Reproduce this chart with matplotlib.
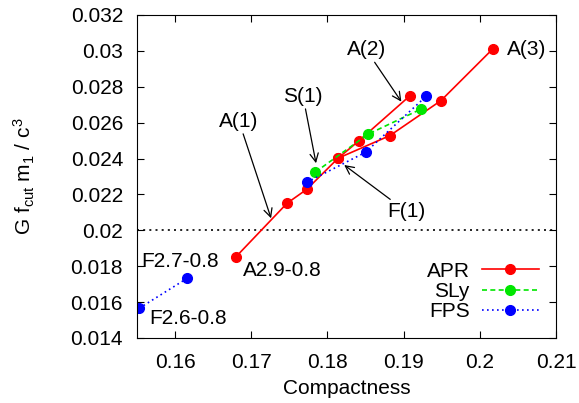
import matplotlib
matplotlib.use("Agg")
import matplotlib.pyplot as plt

plt.rcParams["font.family"] = ["Liberation Sans", "DejaVu Sans"]
plt.rcParams["mathtext.fontset"] = "custom"
plt.rcParams["mathtext.rm"] = "Liberation Sans"
plt.rcParams["mathtext.it"] = "Liberation Sans"

# APR: main branch (A2.9-0.8 ... A(2)) and second branch (... A(3))
apr1_c = [0.1680, 0.1747, 0.1773, 0.1814, 0.1841, 0.1908]
apr1_f = [0.01853, 0.02151, 0.02229, 0.02402, 0.02498, 0.02749]
apr2_c = [0.1814, 0.1882, 0.1949, 0.2017]
apr2_f = [0.02402, 0.02528, 0.02723, 0.03011]

sly_c = [0.1784, 0.1853, 0.1923]
sly_f = [0.02324, 0.02535, 0.02676]

fps1_c = [0.1553, 0.1616]
fps1_f = [0.01566, 0.01733]
fps2_c = [0.1773, 0.1850, 0.1930]
fps2_f = [0.02268, 0.02435, 0.02749]

threshold = 0.02

fig = plt.figure(figsize=(5.79, 4.03), dpi=100)
ax = fig.add_axes([0.2366, 0.1613, 0.7237, 0.8015])

kw = dict(marker="o", markersize=7, linewidth=1.2)
ax.axhline(threshold, color="black", linestyle=(0, (1.2, 2.5)), linewidth=1.2)
ax.plot(apr1_c, apr1_f, color="#ff0000", label="APR", **kw)
ax.plot(apr2_c, apr2_f, color="#ff0000", **kw)
ax.plot(sly_c, sly_f, color="#00e600", linestyle=(0, (3, 2)), label="SLy", **kw)
ax.plot(fps1_c, fps1_f, color="#0000ff", linestyle=(0, (1, 2)), label="FPS", **kw)
ax.plot(fps2_c, fps2_f, color="#0000ff", linestyle=(0, (1, 2)), **kw)

fs = 15
arrow = dict(arrowstyle="->", color="black", lw=0.9, shrinkA=0, shrinkB=0)
ax.annotate("A(1)", xy=(0.1726, 0.02067), xytext=(0.1684, 0.02606),
            ha="center", va="center", fontsize=fs, arrowprops=arrow)
ax.annotate("S(1)", xy=(0.1785, 0.02374), xytext=(0.1768, 0.02745),
            ha="center", va="center", fontsize=fs, arrowprops=arrow)
ax.annotate("A(2)", xy=(0.1897, 0.02717), xytext=(0.1851, 0.03005),
            ha="center", va="center", fontsize=fs, arrowprops=arrow)
ax.annotate("F(1)", xy=(0.1822, 0.02364), xytext=(0.1904, 0.02104),
            ha="center", va="center", fontsize=fs, arrowprops=arrow)
ax.text(0.2036, 0.0301, "A(3)", ha="left", va="center", fontsize=fs)
ax.text(0.1555, 0.01825, "F2.7-0.8", ha="left", va="center", fontsize=fs)
ax.text(0.1566, 0.0151, "F2.6-0.8", ha="left", va="center", fontsize=fs)
ax.text(0.1689, 0.01775, "A2.9-0.8", ha="left", va="center", fontsize=fs)

ax.set_xlim(0.155, 0.21)
ax.set_ylim(0.014, 0.032)
ax.set_xticks([0.16, 0.17, 0.18, 0.19, 0.2, 0.21])
ax.set_xticklabels(["0.16", "0.17", "0.18", "0.19", "0.2", "0.21"])
ax.set_yticks([0.014, 0.016, 0.018, 0.02, 0.022, 0.024, 0.026, 0.028, 0.03, 0.032])
ax.set_yticklabels(["0.014", "0.016", "0.018", "0.02", "0.022", "0.024",
                    "0.026", "0.028", "0.03", "0.032"])
ax.tick_params(direction="in", top=True, right=True, labelsize=fs, length=5)
ax.tick_params(axis="y", pad=10)
ax.tick_params(axis="x", pad=11)
ax.set_xlabel("Compactness", fontsize=fs, labelpad=5)
ax.set_ylabel(r"G f$_{\rm cut}$ m$_1$ / c$^3$", fontsize=fs, labelpad=24)

ax.legend(loc="lower right", frameon=False, markerfirst=False, fontsize=fs,
          handlelength=2.7, handletextpad=0.6, labelspacing=0.05,
          bbox_to_anchor=(1.003, -0.005))

fig.savefig("out.png", dpi=100)
